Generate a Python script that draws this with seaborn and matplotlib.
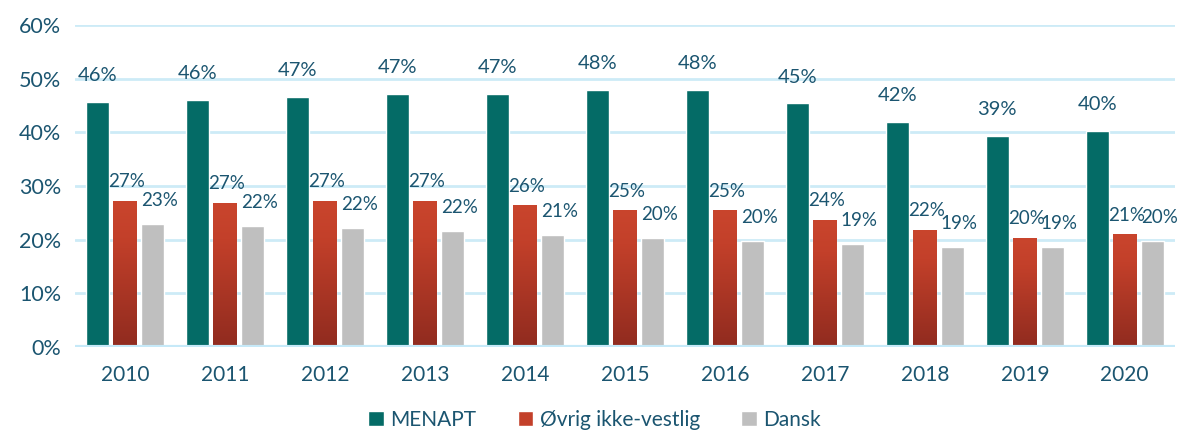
import numpy as np
import pandas as pd
import matplotlib
matplotlib.use('Agg')
import matplotlib.pyplot as plt
import seaborn as sns
from matplotlib.colors import LinearSegmentedColormap
from matplotlib.patches import Patch

years = ['2010', '2011', '2012', '2013', '2014', '2015', '2016', '2017', '2018', '2019', '2020']
series = ['MENAPT', 'Øvrig ikke-vestlig', 'Dansk']
menapt = [45.7, 46.0, 46.7, 47.1, 47.1, 47.9, 48.0, 45.4, 41.9, 39.4, 40.2]
ovrig = [27.2, 26.8, 27.2, 27.2, 26.3, 25.4, 25.4, 23.6, 21.8, 20.3, 20.9]
dansk = [22.9, 22.5, 22.2, 21.6, 20.9, 20.3, 19.7, 19.2, 18.6, 18.6, 19.7]

text_color = '#1B5570'
colors = ['#046B66', '#C3402A', '#BFBFBF']

sns.set_theme(style='white')
plt.rcParams['font.family'] = ['Lato', 'DejaVu Sans']

df = pd.DataFrame({
    'year': years * 3,
    'group': [s for s in series for _ in years],
    'value': menapt + ovrig + dansk,
})

fig = plt.figure(figsize=(11.89, 4.42), dpi=100)
ax = fig.add_axes([0.063, 0.215, 0.925, 0.728])

sns.barplot(data=df, x='year', y='value', hue='group', hue_order=series,
            palette=colors, width=0.825, gap=0.16, ax=ax, legend=False,
            saturation=1, zorder=3)

# red gradient on the middle series (dark at bottom, bright at top)
grad = LinearSegmentedColormap.from_list('red', [(0, '#902B1F'), (0.75, '#C3402A'), (1, '#C9452D')])
img = np.linspace(0, 1, 256).reshape(-1, 1)
for bar in ax.containers[1]:
    x0, w, h = bar.get_x(), bar.get_width(), bar.get_height()
    ax.imshow(img, cmap=grad, aspect='auto', origin='lower',
              extent=[x0, x0 + w, 0, h], zorder=4)

ax.set_xlim(-0.5, len(years) - 0.5)
ax.set_ylim(0, 60)
ax.set_yticks(range(0, 61, 10))
ax.set_yticklabels([f'{v}%' for v in range(0, 61, 10)])
ax.grid(axis='y', color='#CDEBF7', linewidth=2, zorder=0)
ax.axhline(0, color='#C6E9F8', linewidth=3, zorder=5)
for s in ax.spines.values():
    s.set_visible(False)
ax.set_xlabel('')
ax.set_ylabel('')
ax.tick_params(axis='both', length=0, labelcolor=text_color)
ax.tick_params(axis='y', labelsize=15.5, pad=10)
ax.tick_params(axis='x', labelsize=15, pad=13)

# value labels
offsets = [(0, 19), (1, 14), (5, 17)]
sizes = [14.5, 13.5, 13.5]
for cont, (dx, dy), fs in zip(ax.containers, offsets, sizes):
    for bar in cont:
        h = bar.get_height()
        ax.annotate(f'{h:.0f}%', (bar.get_x() + bar.get_width() / 2, h),
                    xytext=(dx, dy), textcoords='offset points',
                    ha='center', va='center', fontsize=fs, color=text_color,
                    zorder=6)

handles = [Patch(facecolor=c, label=s) for c, s in zip(colors, series)]
leg = fig.legend(handles=handles, loc='lower center', bbox_to_anchor=(0.5, -0.015),
                 ncol=3, frameon=False, fontsize=15, handlelength=0.75,
                 handleheight=0.75, handletextpad=0.3, columnspacing=2.0)
for t in leg.get_texts():
    t.set_color(text_color)

fig.savefig('out.png', dpi=100)
